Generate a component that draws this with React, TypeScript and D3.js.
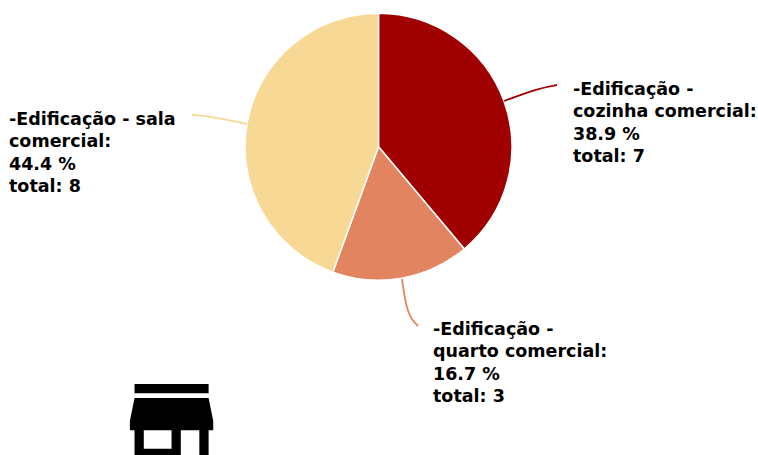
import React from "react";
import * as d3 from "d3";

const categories = ["cozinha comercial", "quarto comercial", "sala comercial"];
const values = [7, 3, 8];
const percents = ["38.9 %", "16.7 %", "44.4 %"];
const colors = ["#a00000", "#e2845f", "#f7d995"];
const labelLines = [
  ["-Edificação -", "cozinha comercial:", "38.9 %", "total: 7"],
  ["-Edificação -", "quarto comercial:", "16.7 %", "total: 3"],
  ["-Edificação - sala", "comercial:", "44.4 %", "total: 8"],
];
const labelPos = [
  { x: 573, y: 95 },
  { x: 433, y: 335 },
  { x: 9, y: 125 },
];
// leader line points: [start on the slice edge, bend, end]
const leaders = [
  [[504, 101], [539, 88], [557, 85]],
  [[402, 279], [407, 316], [418, 326]],
  [[247, 124], [210, 116], [192, 115]],
];
const STORE = "M20 4H4v2h16V4zm1 10v-2l-1-5H4l-1 5v2h1v6h10v-6h4v6h2v-6h1zm-9 4H6v-4h6v4z";

export default function App() {
  const cx = 378.5, cy = 146.7, r = 133.5;
  const pie = d3.pie<number>().sort(null)(values);
  const arc = d3.arc<d3.PieArcDatum<number>>().innerRadius(0).outerRadius(r);
  const line = d3.line().curve(d3.curveBundle.beta(0.95));
  return (
    <svg
      width={758}
      height={455}
      viewBox="0 0 758 455"
      style={{ position: "fixed", left: 0, top: 0, display: "block", background: "#fff" }}
      fontFamily="'DejaVu Sans', sans-serif"
    >
      <g transform={`translate(${cx},${cy})`}>
        {pie.map((d, i) => (
          <path key={categories[i]} d={arc(d) as string} fill={colors[i]} stroke="#fff" strokeWidth={1.5} />
        ))}
      </g>
      {leaders.map((p, i) => (
        <path key={i} d={line(p as [number, number][]) as string} fill="none" stroke={colors[i]} strokeWidth={1.8} />
      ))}
      {labelLines.map((ls, i) => (
        <text key={i} x={labelPos[i].x} y={labelPos[i].y} fontSize={17.5} fontWeight={700} fill="#000">
          {ls.map((t, j) => (
            <tspan key={j} x={labelPos[i].x} dy={j === 0 ? 0 : 22.3}>{t}</tspan>
          ))}
        </text>
      ))}
      <path d={STORE} fill="#000" transform="translate(116,365.5) scale(4.63)" />
    </svg>
  );
}
